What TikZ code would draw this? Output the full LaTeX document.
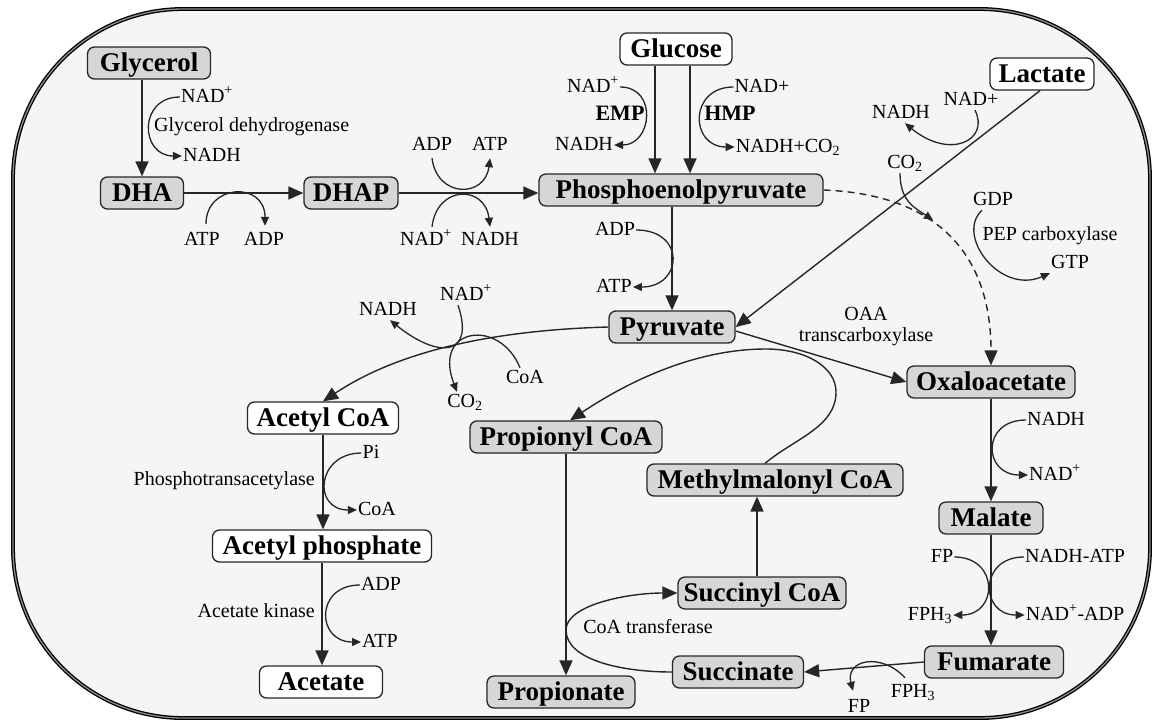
\documentclass[tikz,border=0pt]{standalone}
\usepackage{fontspec}
\setmainfont{Liberation Serif}
\usetikzlibrary{arrows.meta}
\begin{document}
\begin{tikzpicture}[x=1pt,y=-1pt,
  mol/.style={draw=black!85, line width=1.3pt, rounded corners=7pt,
    font=\fontsize{27}{29}\selectfont\bfseries, minimum height=32pt,
    inner xsep=4pt, inner ysep=0pt, text height=20pt, text depth=4pt},
  gmol/.style={mol, fill=black!16},
  wmol/.style={mol, fill=white},
  lab/.style={font=\fontsize{20}{21}\selectfont, inner sep=1pt, text height=14pt, text depth=4pt},
  blab/.style={lab, font=\fontsize{22}{24}\selectfont\bfseries},
  main/.style={draw=black!85, line width=1.4pt, -{Triangle[length=15pt,width=13pt]}},
  side/.style={draw=black!85, line width=1.3pt, -{Triangle[length=9pt,width=8pt]}},
  cell/.style={draw=black, line width=1.3pt, double=black!45, double distance=1.3pt,
    fill=black!4, rounded corners=170pt}
]
\useasboundingbox (0,0) rectangle (1155,723);
\fill[white] (0,0) rectangle (1155,723);
\path[cell] (13,9) rectangle (1150,718);

% metabolites
\node[gmol, minimum width=123pt] (gly) at (149,63) {Glycerol};
\node[gmol, minimum width=83pt] (dha) at (142,193) {DHA};
\node[gmol, minimum width=94pt] (dhap) at (351,193) {DHAP};
\node[gmol, minimum width=284pt] (pep) at (681,190) {Phosphoenolpyruvate};
\node[wmol, minimum width=112pt] (glc) at (676,49) {Glucose};
\node[wmol, minimum width=104pt] (lac) at (1042,74) {Lactate};
\node[gmol, minimum width=126pt] (pyr) at (672,327) {Pyruvate};
\node[gmol, minimum width=168pt] (oaa) at (991,382) {Oxaloacetate};
\node[wmol, minimum width=151pt] (acoa) at (323,418) {Acetyl CoA};
\node[gmol, minimum width=192pt] (prop) at (566,437) {Propionyl CoA};
\node[gmol, minimum width=256pt] (mmc) at (775,480) {Methylmalonyl CoA};
\node[gmol, minimum width=104pt] (mal) at (991,518) {Malate};
\node[wmol, minimum width=219pt] (acp) at (322,546) {Acetyl phosphate};
\node[gmol, minimum width=168pt] (sucoa) at (762,593) {Succinyl CoA};
\node[gmol, minimum width=139pt] (fum) at (994,662) {Fumarate};
\node[wmol, minimum width=123pt] (ace) at (321,682) {Acetate};
\node[gmol, minimum width=131pt] (succ) at (738,672) {Succinate};
\node[gmol, minimum width=148pt] (ppn) at (561,692) {Propionate};

% labels
\node[lab] (g_nad) at (207,97) {NAD\textsuperscript{+}};
\node[lab] (g_nadh) at (212,156) {NADH};
\node[lab, anchor=west] (g_enz) at (153,126) {Glycerol dehydrogenase};
\node[lab] (atp1) at (202,240) {ATP};
\node[lab] (adp1) at (264,240) {ADP};
\node[lab] (adp2) at (432,145) {ADP};
\node[lab] (atp2) at (490,145) {ATP};
\node[lab] (nad2) at (426,240) {NAD\textsuperscript{+}};
\node[lab] (nadh2) at (490,240) {NADH};
\node[lab] (emp_nad) at (593,87) {NAD\textsuperscript{+}};
\node[blab] (emp) at (620,115) {EMP};
\node[lab] (emp_nadh) at (584,145) {NADH};
\node[lab] (hmp_nad) at (762,87) {NAD+};
\node[blab] (hmp) at (730,115) {HMP};
\node[lab] (hmp_prod) at (788,147) {NADH+CO\textsubscript{2}};
\node[lab] (lac_nad) at (971,100) {NAD+};
\node[lab] (lac_nadh) at (901,113) {NADH};
\node[lab] (co2a) at (905,163) {CO\textsubscript{2}};
\node[lab] (gdp) at (993,200) {GDP};
\node[lab] (pepc) at (1050,235) {PEP carboxylase};
\node[lab] (gtp) at (1070,263) {GTP};
\node[lab] (pp_adp) at (615,230) {ADP};
\node[lab] (pp_atp) at (614,287) {ATP};
\node[lab, align=center, text height=, text depth=] (oaa_enz) at (866,327) {OAA\\transcarboxylase};
\node[lab] (py_nad) at (466,295) {NAD\textsuperscript{+}};
\node[lab] (py_nadh) at (388,310) {NADH};
\node[lab] (py_coa) at (525,378) {CoA};
\node[lab] (py_co2) at (465,402) {CO\textsubscript{2}};
\node[lab] (om_nadh) at (1056,420) {NADH};
\node[lab] (om_nad) at (1055,475) {NAD\textsuperscript{+}};
\node[lab] (mf_fp) at (942,557) {FP};
\node[lab] (mf_nadhatp) at (1075,557) {NADH-ATP};
\node[lab] (mf_fph3) at (930,615) {FPH\textsubscript{3}};
\node[lab] (mf_nadadp) at (1075,615) {NAD\textsuperscript{+}-ADP};
\node[lab] (fs_fph3) at (913,692) {FPH\textsubscript{3}};
\node[lab] (fs_fp) at (859,707) {FP};
\node[lab] (ac_pi) at (371,453) {Pi};
\node[lab] (ac_coa) at (377,510) {CoA};
\node[lab, anchor=east] (ac_enz) at (316,480) {Phosphotransacetylase};
\node[lab] (ak_adp) at (381,585) {ADP};
\node[lab] (ak_atp) at (380,642) {ATP};
\node[lab, anchor=east] (ak_enz) at (316,612) {Acetate kinase};
\node[lab] (ct_enz) at (648,628) {CoA transferase};

% main reactions
\draw[main] (gly.south -| dha.north) -- (dha.north);
\draw[main] (dha.east) -- (dhap.west);
\draw[main] (dhap.east) -- (dhap.east -| pep.west);
\draw[main] ([xshift=-21pt]glc.south) -- ([xshift=-21pt]glc.south |- pep.north);
\draw[main] ([xshift=14pt]glc.south) -- ([xshift=14pt]glc.south |- pep.north);
\draw[main] (pep.south -| pyr.north) -- (pyr.north);
\draw[main] ([xshift=-2pt]lac.south) -- (pyr.east);
\draw[main] ([yshift=-4pt]pyr.east) -- (oaa.west);
\draw[main, dash pattern=on 7pt off 5pt] (pep.east) .. controls +(125,5) and +(0,-100) .. (oaa.north);
\draw[main] (pyr.west) .. controls +(-110,3) and +(78,-52) .. (acoa.north);
\draw[main] (acoa.south) -- (acoa.south |- acp.north);
\draw[main] (acp.south) -- (acp.south |- ace.north);
\draw[main] (oaa.south) -- (oaa.south |- mal.north);
\draw[main] (mal.south) -- (mal.south |- fum.north);
\draw[main] (fum.west) -- (succ.east);
\draw[main] (prop.south) -- (prop.south |- ppn.north);
\draw[main] ([xshift=-5pt]sucoa.north) -- ([xshift=-5pt]sucoa.north |- mmc.south);
\coordinate (loopR) at (836,392);
\coordinate (loopT) at (766,349);
\draw[main] ([xshift=-10pt]mmc.north) .. controls +(30,-25) and +(0,35) .. (loopR)
  .. controls +(0,-25) and +(40,0) .. (loopT)
  .. controls +(-80,0) and +(45,-30) .. ([xshift=4pt]prop.north);
\coordinate (loopL) at (566,630);
\draw[main] (succ.west) .. controls +(-50,0) and +(0,30) .. (loopL)
  .. controls +(0,-25) and +(-50,0) .. (sucoa.west);

% side reactions
\draw[side] (g_nad.west) .. controls +(-42,0) and +(-42,0) .. (g_nadh.west);
\draw[side] ([xshift=4pt,yshift=6pt]atp1.north) .. controls +(0,-40) and +(0,-45) .. ([xshift=1pt,yshift=4pt]adp1.north);
\draw[side] ([yshift=-3pt]adp2.south) .. controls +(5,40) and +(-5,40) .. ([yshift=-3pt]atp2.south);
\draw[side] ([xshift=6pt,yshift=3pt]nad2.north) .. controls +(5,-42) and +(-5,-42) .. ([yshift=3pt]nadh2.north);
\draw[side] (emp_nad.east) .. controls +(38,0) and +(38,0) .. (emp_nadh.east);
\draw[side] (hmp_nad.west) .. controls +(-45,0) and +(-45,0) .. (hmp_prod.west);
\draw[side] (pp_adp.east) .. controls +(50,0) and +(50,0) .. (pp_atp.east);
\draw[side] ([xshift=4pt]lac_nad.south) .. controls +(15,30) and +(45,37) .. ([xshift=4pt]lac_nadh.south);
\coordinate (co2tip) at (933,220);
\draw[side] ([xshift=-5pt]co2a.south) .. controls +(0,28) and +(-18,-12) .. (co2tip);
\draw[side] ([xshift=-11pt]gdp.south) .. controls +(-27,25) and +(-50,22) .. (gtp.south west);
\draw[side] ([xshift=-8pt]py_nad.south) .. controls +(17,50) and +(50,40) .. ([xshift=2pt]py_nadh.south);
\draw[side] ([xshift=-5pt]py_coa.north) .. controls +(-20,-50) and +(-25,-65) .. ([xshift=-8pt]py_co2.north);
\draw[side] (om_nadh.west) .. controls +(-45,0) and +(-45,0) .. (om_nad.west);
\draw[side] (mf_fp.east) .. controls +(45,0) and +(45,0) .. (mf_fph3.east);
\draw[side] (mf_nadhatp.west) .. controls +(-45,0) and +(-45,0) .. (mf_nadadp.west);
\draw[side] ([xshift=-8pt,yshift=4pt]fs_fph3.north) .. controls +(-24,-26) and +(-8,-31) .. ([xshift=-6pt,yshift=6pt]fs_fp.north);
\draw[side] (ac_pi.west) .. controls +(-45,0) and +(-45,0) .. (ac_coa.west);
\draw[side] (ak_adp.west) .. controls +(-45,0) and +(-45,0) .. (ak_atp.west);
\end{tikzpicture}
\end{document}
